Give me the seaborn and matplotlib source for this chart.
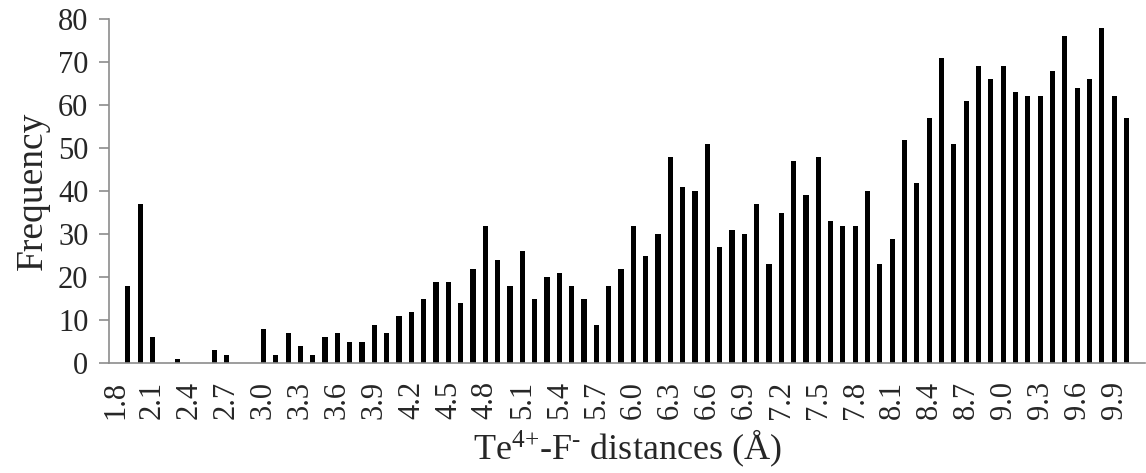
import numpy as np
import pandas as pd
import matplotlib
matplotlib.use("Agg")
import matplotlib.pyplot as plt
from matplotlib.ticker import FixedLocator
import seaborn as sns

# distance bins (Å) and counts
distances = [round(1.8 + 0.1 * i, 1) for i in range(84)]
frequency = [0, 18, 37, 6, 0, 1, 0, 0, 3, 2,
             0, 0, 8, 2, 7, 4, 2, 6, 7, 5,
             5, 9, 7, 11, 12, 15, 19, 19, 14, 22,
             32, 24, 18, 26, 15, 20, 21, 18, 15, 9,
             18, 22, 32, 25, 30, 48, 41, 40, 51, 27,
             31, 30, 37, 23, 35, 47, 39, 48, 33, 32,
             32, 40, 23, 29, 52, 42, 57, 71, 51, 61,
             69, 66, 69, 63, 62, 62, 68, 76, 64, 66,
             78, 62, 57, 0]
labels = [f"{d:.1f}" for d in distances]

df = pd.DataFrame({"dist": labels, "freq": frequency})

sns.set_style("white")
plt.rcParams["font.family"] = ["Liberation Serif", "DejaVu Serif"]
plt.rcParams["mathtext.fontset"] = "custom"
plt.rcParams["mathtext.rm"] = "Liberation Serif"
plt.rcParams["mathtext.it"] = "Liberation Serif:italic"

fig = plt.figure(figsize=(11.46, 4.73), dpi=100)
ax = fig.add_axes([0.0954, 0.2319, 0.9037, 0.7279])

sns.barplot(data=df, x="dist", y="freq", order=labels, color="black",
            width=0.42, saturation=1, linewidth=0, ax=ax)

ax.set_xlim(-0.5, len(labels) - 0.5)
ax.set_ylim(0, 80)
ax.set_yticks(range(0, 81, 10))

axis_grey = "#8c8c8c"
for side in ["top", "right"]:
    ax.spines[side].set_visible(False)
for side in ["left", "bottom"]:
    ax.spines[side].set_color(axis_grey)
    ax.spines[side].set_linewidth(1.2)

# labels every third bin, tick marks between bins
idx = list(range(0, len(labels), 3))
ax.set_xticks(idx)
ax.set_xticklabels([labels[i] for i in idx], rotation=90)
ax.xaxis.set_minor_locator(FixedLocator(np.arange(-0.5, len(labels), 1)))
ax.tick_params(axis="x", which="major", length=0, labelsize=22, pad=13)
ax.tick_params(axis="x", which="minor", length=6, width=1.2, color=axis_grey)
ax.tick_params(axis="y", length=7, width=1.2, color=axis_grey, labelsize=22, pad=8,
               direction="out", left=True)

ax.set_xlabel("Te$^{\\mathrm{4{+}}}$-F$^{\\mathrm{\u2010}}$ distances (Å)", fontsize=26, labelpad=6)
ax.set_ylabel("Frequency", fontsize=27, labelpad=6)

fig.savefig("out.png", dpi=100)
